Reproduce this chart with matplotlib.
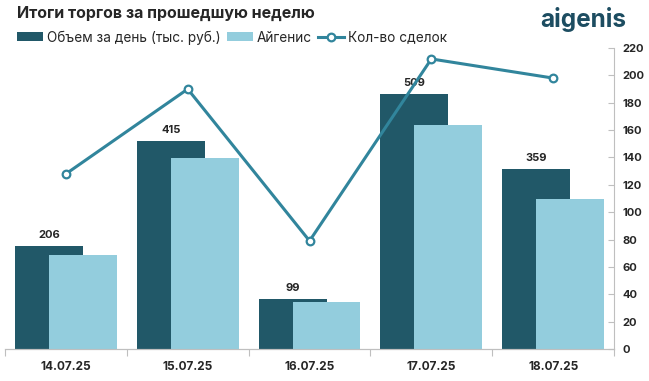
import matplotlib
matplotlib.use("Agg")
import matplotlib.pyplot as plt
import numpy as np

plt.rcParams["font.family"] = ["Inter", "DejaVu Sans"]

dates = ["14.07.25", "15.07.25", "16.07.25", "17.07.25", "18.07.25"]
volume = [206, 415, 99, 509, 359]        # Объем за день (тыс. руб.)
aigenis = [187, 381, 94, 447, 299]       # Айгенис
deals = [128, 190, 79, 212, 198]         # Кол-во сделок

DARK = "#215868"
LIGHT = "#93CDDD"
LINE = "#31859C"
TXT = "#262626"

fig = plt.figure(figsize=(6.49, 3.81), dpi=100)
ax = fig.add_axes([0.0077, 0.084, 0.9385, 0.79])
ax2 = ax.twinx()

x = np.arange(len(dates))
w = 0.557
off = 0.139
b1 = ax.bar(x - off, volume, w, color=DARK, label="Объем за день (тыс. руб.)", zorder=2)
b2 = ax.bar(x + off, aigenis, w, color=LIGHT, label="Айгенис", zorder=3)
for xi, v in zip(x, volume):
    ax.text(xi - off, v + 12, str(v), ha="center", va="bottom",
            fontsize=8, fontweight="bold", color=TXT)

ln, = ax2.plot(x, deals, color=LINE, lw=2.2, marker="o", ms=5.5,
               mfc="white", mec=LINE, mew=1.6, label="Кол-во сделок", zorder=4)

ax.set_xlim(-0.5, 4.5)
ax.set_ylim(0, 600)
ax2.set_ylim(0, 220)
ax.set_yticks([])
ax2.set_yticks(range(0, 221, 20))
ax2.tick_params(axis="y", direction="in", length=4, color="#BFBFBF",
                labelsize=8, labelcolor=TXT, pad=6)
for t in ax2.get_yticklabels():
    t.set_fontweight("bold")

ax.set_xticks(np.arange(-0.5, 5, 1))
ax.set_xticklabels([])
ax.set_xticks(x, minor=True)
ax.set_xticklabels(dates, minor=True, fontsize=8.5, fontweight="bold", color=TXT)
ax.tick_params(axis="x", which="major", length=5, color="#BFBFBF")
ax.tick_params(axis="x", which="minor", length=0, pad=9)

for a in (ax, ax2):
    for s in ("top", "left"):
        a.spines[s].set_visible(False)
    a.spines["bottom"].set_color("#BFBFBF")
    a.spines["right"].set_color("#BFBFBF")
ax.spines["right"].set_visible(False)
ax2.set_zorder(ax.get_zorder() + 1)
ax2.patch.set_visible(False)

fig.text(0.026, 0.965, "Итоги торгов за прошедшую неделю", fontsize=11.5,
         fontweight="bold", color=TXT, va="center", ha="left")
fig.text(0.965, 0.948, "aigenis", fontsize=17.5, fontweight="bold",
         color="#1D4D61", va="center", ha="right")

fig.legend([b1, b2, ln], [b1.get_label(), b2.get_label(), ln.get_label()],
           loc="center left", bbox_to_anchor=(0.026, 0.902), ncol=3,
           frameon=False, fontsize=9.8, handlelength=1.95, handleheight=0.6,
           handletextpad=0.25, columnspacing=0.45, borderaxespad=0, borderpad=0,
           labelcolor=TXT)

fig.savefig("out.png", dpi=100)
